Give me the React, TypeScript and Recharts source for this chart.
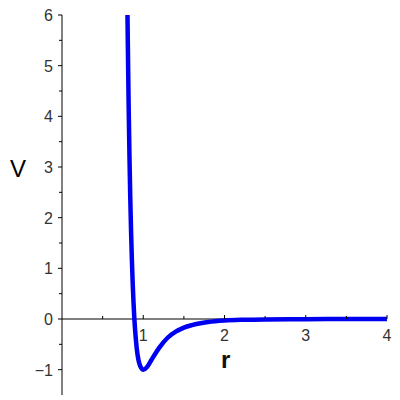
import { LineChart, Line, XAxis, YAxis, ReferenceLine, ReferenceDot } from "recharts";

// values (Lennard-Jones shaped well)
const rValues = [0.806, 0.81, 0.82, 0.83, 0.84, 0.85, 0.86, 0.87, 0.88, 0.89, 0.9, 0.92, 0.94, 0.96, 0.98, 1.0, 1.05, 1.1, 1.15, 1.2, 1.3, 1.4, 1.5, 1.6, 1.8, 2.0, 2.25, 2.5, 3.0, 3.5, 4.0];
const vValues = [6.0, 5.46, 4.24, 3.24, 2.41, 1.73, 1.17, 0.71, 0.33, 0.02, -0.22, -0.58, -0.8, -0.92, -0.98, -1.0, -0.94, -0.81, -0.68, -0.56, -0.37, -0.25, -0.17, -0.12, -0.06, -0.03, -0.015, -0.008, -0.003, -0.001, -0.0005];

const xTicks = [0.5, 1, 1.5, 2, 2.5, 3, 3.5, 4];
const yTicks = [-1, -0.5, 0, 0.5, 1, 1.5, 2, 2.5, 3, 3.5, 4, 4.5, 5, 5.5, 6];

const data = rValues.map((r, i) => ({ r, v: vValues[i] }));

const tickFont = "'Liberation Sans', Arial, sans-serif";

const fmt = (n: number) => (n < 0 ? "\u2212" + Math.abs(n) : String(n));

const YTick = (props: any) => {
  const { x, y, payload } = props;
  const major = Number.isInteger(payload.value);
  return (
    <g>
      <line x1={x} x2={x - (major ? 4 : 3)} y1={y} y2={y} stroke="#000" />
      {major && (
        <text x={x - 9} y={y + 6} textAnchor="end" fontSize={16} fontFamily={tickFont} fill="#333">
          {fmt(payload.value)}
        </text>
      )}
    </g>
  );
};

const XTick = ({ cx, cy, v }: { cx: number; cy: number; v: number }) => {
  const major = Number.isInteger(v);
  return (
    <g>
      <line x1={cx} x2={cx} y1={cy} y2={cy - (major ? 4 : 3)} stroke="#000" />
      {major && (
        <text x={cx} y={cy + 22} textAnchor="middle" fontSize={16} fontFamily={tickFont} fill="#333">
          {v}
        </text>
      )}
    </g>
  );
};

const App = () => {
  return (
    <div style={{ position: "fixed", left: 0, top: 0, width: 400, height: 400, background: "#fff" }}>
      <LineChart width={400} height={400} data={data} margin={{ top: 15, right: 13, bottom: 5, left: 0 }}>
        <XAxis dataKey="r" type="number" domain={[0, 4]} hide />
        <YAxis
          type="number"
          domain={[-1.5, 6]}
          ticks={yTicks}
          width={62}
          tickLine={false}
          tickSize={0}
          tickMargin={0}
          tick={<YTick />}
          axisLine={{ stroke: "#000" }}
          interval={0}
        />
        <ReferenceLine y={0} stroke="#000" />
        {xTicks.map((t) => (
          <ReferenceDot
            key={t}
            x={t}
            y={0}
            r={0}
            shape={(p: any) => <XTick cx={p.cx} cy={p.cy} v={t} />}
          />
        ))}
        <Line
          type="monotone"
          dataKey="v"
          stroke="#0000f0"
          strokeWidth={4.5}
          dot={false}
          isAnimationActive={false}
        />
      </LineChart>
      <div style={{ position: "absolute", left: 10, top: 157, fontSize: 24, lineHeight: "24px", fontFamily: tickFont, color: "#000" }}>
        V
      </div>
      <div style={{ position: "absolute", left: 221, top: 348, fontSize: 24, lineHeight: "24px", fontWeight: "bold", fontFamily: tickFont, color: "#111" }}>
        r
      </div>
    </div>
  );
};

export default App;
